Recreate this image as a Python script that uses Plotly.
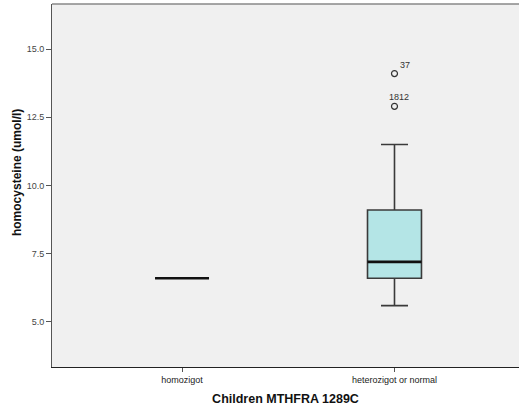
import plotly.graph_objects as go

# Group labels and their positions on the x axis
groups = ["homozigot", "heterozigot or normal"]
group_pos = [0, 1]

# Box statistics per group (homocysteine, umol/l)
lower_whisker = [6.6, 5.6]
q1 = [6.6, 6.6]
median = [6.6, 7.2]
q3 = [6.6, 9.1]
upper_whisker = [6.6, 11.5]

# Outlying cases (heterozigot or normal group)
outlier_group = [1, 1]
outlier_value = [14.1, 12.9]
outlier_label = ["37", "1812"]

y_ticks = [5.0, 7.5, 10.0, 12.5, 15.0]

box_width = 0.254
font_family = "Liberation Sans, Arial, sans-serif"

fig = go.Figure()

fig.add_trace(go.Box(
    x=group_pos,
    q1=q1,
    median=median,
    q3=q3,
    lowerfence=lower_whisker,
    upperfence=upper_whisker,
    width=box_width,
    whiskerwidth=0.5,
    fillcolor="#b4e5e6",
    line=dict(color="#3a3a3a", width=1.6),
    boxpoints=False,
    hoverinfo="skip",
    showlegend=False,
))

# Heavier median lines drawn over the boxes
for xp, m in zip(group_pos, median):
    fig.add_trace(go.Scatter(
        x=[xp - box_width / 2, xp + box_width / 2],
        y=[m, m],
        mode="lines",
        line=dict(color="#111111", width=2.6),
        hoverinfo="skip",
        showlegend=False,
    ))

fig.add_trace(go.Scatter(
    x=outlier_group,
    y=outlier_value,
    mode="markers",
    marker=dict(symbol="circle-open", size=6, color="#333333", line=dict(width=1.2)),
    hoverinfo="skip",
    showlegend=False,
))

# Case-number labels next to the outliers
label_anchor = ["left", "center"]
label_xshift = [4, 5]
outlier_annotations = [
    dict(x=gx, y=val, text=lab, xref="x", yref="y", showarrow=False,
         xanchor=anc, yanchor="middle", xshift=xs, yshift=9,
         font=dict(size=9, color="#333333"))
    for gx, val, lab, anc, xs in zip(outlier_group, outlier_value, outlier_label,
                                     label_anchor, label_xshift)
]

fig.update_layout(
    width=519,
    height=410,
    margin=dict(l=52, r=0, t=4, b=43),
    paper_bgcolor="white",
    plot_bgcolor="#f0f0f0",
    font=dict(family=font_family, size=9, color="#333333"),
    xaxis=dict(
        range=[-0.612, 1.586],
        tickvals=group_pos,
        ticktext=groups,
        ticks="outside",
        ticklen=4,
        tickcolor="#555555",
        showgrid=False,
        zeroline=False,
        showline=True,
        linecolor="#222222",
        linewidth=1.2,
        tickfont=dict(size=9, color="#222222"),
        title=dict(text="<b>Children MTHFRA 1289C</b>",
                   font=dict(size=12.5, color="#111111"), standoff=10),
    ),
    yaxis=dict(
        range=[3.35, 16.65],
        tickvals=y_ticks,
        ticktext=[f"{v:.1f}" for v in y_ticks],
        ticks="outside",
        ticklen=5,
        tickcolor="#555555",
        showgrid=False,
        zeroline=False,
        showline=True,
        linecolor="#555555",
        linewidth=1,
        tickfont=dict(size=9, color="#444444"),
    ),
    shapes=[dict(type="line", xref="paper", yref="paper", x0=0, x1=1, y0=1, y1=1,
                 line=dict(color="#888888", width=1.5))],
    annotations=[dict(text="<b>homocysteine (umol/l)</b>", textangle=-90,
                      xref="paper", yref="paper", x=-0.075, y=0.537,
                      xanchor="center", yanchor="middle", showarrow=False,
                      font=dict(size=12, color="#111111"))] + outlier_annotations,
)

fig.write_html("out.html")
